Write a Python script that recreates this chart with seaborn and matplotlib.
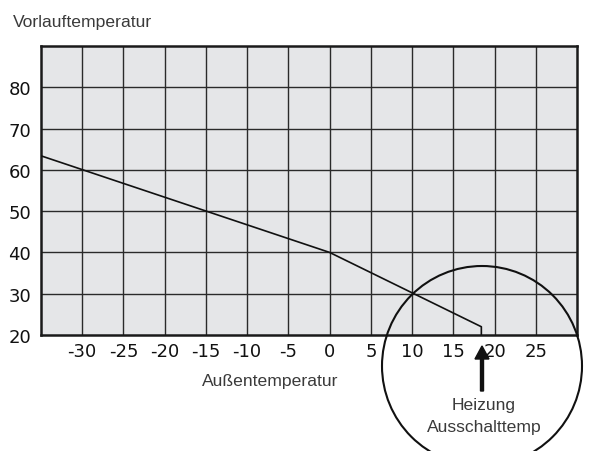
import matplotlib
matplotlib.use("Agg")
import matplotlib.pyplot as plt
import seaborn as sns
import pandas as pd
from matplotlib.patches import Ellipse, FancyArrow

# Data
outside_temp = [-35, 0, 18.4, 18.4]
flow_temp = [63.4, 40, 22, 20]
x_ticks = [-30, -25, -20, -15, -10, -5, 0, 5, 10, 15, 20, 25]
y_ticks = [20, 30, 40, 50, 60, 70, 80]
x_grid = list(range(-35, 31, 5))
y_grid = list(range(20, 91, 10))

sns.set_style("white", {"axes.facecolor": "#e5e6e8"})
plt.rcParams['font.family'] = ['Liberation Sans Narrow', 'DejaVu Sans']
plt.rcParams['axes.unicode_minus'] = False

fig = plt.figure(figsize=(5.91, 4.52), dpi=100)
ax = fig.add_axes([41/591, 1-336/452, (577-41)/591, (336-47)/452])

df = pd.DataFrame({"x": outside_temp, "y": flow_temp})
for g in x_grid[1:-1]:
    ax.axvline(g, color="#2a2a2a", lw=1.0, zorder=1)
for g in y_grid[1:-1]:
    ax.axhline(g, color="#2a2a2a", lw=1.0, zorder=1)

sns.lineplot(data=df, x="x", y="y", sort=False, estimator=None, color="#111111",
             lw=1.2, ax=ax, zorder=3)

ax.set_xlim(-35, 30)
ax.set_ylim(20, 90)
ax.set_xticks(x_ticks)
ax.set_yticks(y_ticks)
ax.tick_params(axis="both", length=0, labelsize=13, colors="#111111")
ax.tick_params(axis="x", pad=5)
ax.tick_params(axis="y", pad=7)
ax.set_xlabel("")
ax.set_ylabel("")
for s in ax.spines.values():
    s.set_visible(True)
    s.set_color("#1a1a1a")
    s.set_linewidth(1.8)

lab = dict(family=['Liberation Sans', 'DejaVu Sans'], color="#3a3a3a", fontsize=12.6)
fig.text(13/591, 1-27/452, "Vorlauftemperatur", ha="left", va="baseline", **lab)
fig.text(270/591, 1-386/452, "Außentemperatur", ha="center", va="baseline", **lab)
fig.text(484/591, 1-410/452, "Heizung", ha="center", va="baseline", **lab)
fig.text(484/591, 1-432/452, "Ausschalttemp", ha="center", va="baseline", **lab)

# circle (in figure pixels)
circ = Ellipse((482/591, 1-367/452), 200/591, 200/452, transform=fig.transFigure,
               fill=False, edgecolor="#111111", lw=1.5, zorder=10)
fig.patches.append(circ)

# arrow
arr = FancyArrow(482/591, 1-392/452, 0, 45/452, width=3/591, head_width=14/591,
                 head_length=13/452, length_includes_head=True, color="#111111",
                 transform=fig.transFigure, zorder=11)
fig.patches.append(arr)

fig.savefig("out.png", dpi=100)
